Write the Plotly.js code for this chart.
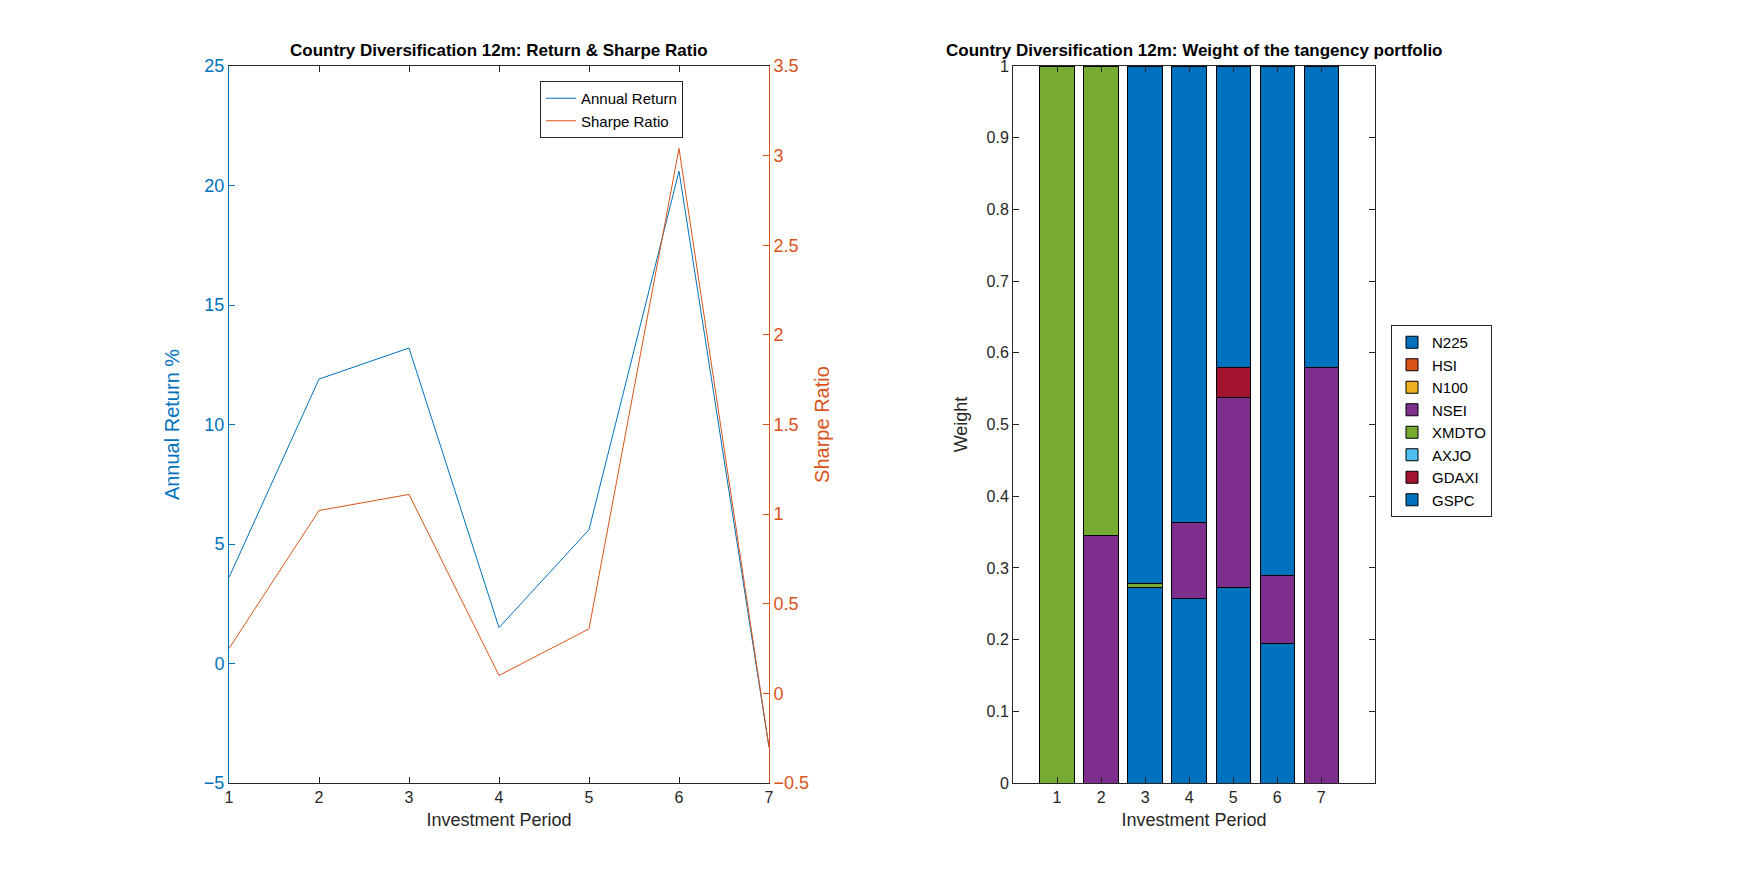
<!DOCTYPE html><html><head><script src="https://cdn.plot.ly/plotly-3.0.1.min.js"></script></head><body style="margin:0"><div id="c" style="width:1750px;height:875px"></div><script>
const periods=[1,2,3,4,5,6,7];
const annualReturn=[3.6,11.9,13.2,1.5,5.6,20.6,-3.5];
const sharpeRatio=[0.25,1.02,1.11,0.1,0.36,3.04,-0.3];
const assets=['N225','HSI','N100','NSEI','XMDTO','AXJO','GDAXI','GSPC'];
const colors=['#0072BD','#D95319','#EDB120','#7E2F8E','#77AC30','#4DBEEE','#A2142F','#0072BD'];
const weights={
N225:[0,0,0.273,0.258,0.273,0.194,0],
HSI:[0,0,0,0,0,0,0],
N100:[0,0,0,0,0,0,0],
NSEI:[0,0.345,0,0.105,0.264,0.095,0.58],
XMDTO:[1,0.655,0.005,0,0,0,0],
AXJO:[0,0,0,0,0,0,0],
GDAXI:[0,0,0,0,0.042,0,0],
GSPC:[0,0,0.722,0.637,0.421,0.711,0.42]};
const F='Liberation Sans, Arial, sans-serif';
const traces=[
{x:periods,y:annualReturn,name:'Annual Return',type:'scatter',mode:'lines',line:{color:'#0072BD',width:1},xaxis:'x',yaxis:'y'},
{x:periods,y:sharpeRatio,name:'Sharpe Ratio',type:'scatter',mode:'lines',line:{color:'#D95319',width:1},xaxis:'x',yaxis:'y2'}];
assets.forEach((a,i)=>traces.push({x:periods,y:weights[a],name:a,type:'bar',width:0.78,marker:{color:colors[i],line:{color:'#000',width:1}},xaxis:'x2',yaxis:'y3',legend:'legend2'}));
const ax={showline:true,linecolor:'#262626',ticks:'inside',ticklen:6,tickcolor:'#262626',zeroline:false,showgrid:false,tickfont:{size:16,color:'#262626',family:F}};
const layout={width:1750,height:875,paper_bgcolor:'#fff',plot_bgcolor:'#fff',showlegend:true,barmode:'stack',font:{family:F},margin:{l:0,r:0,t:0,b:0},
annotations:[
{text:'<b>Country Diversification 12m: Return & Sharpe Ratio</b>',x:499,y:50},
{text:'<b>Country Diversification 12m: Weight of the tangency portfolio</b>',x:1194,y:50}].map(a=>Object.assign(a,{xref:'paper',yref:'paper',xanchor:'center',yanchor:'middle',showarrow:false,font:{size:17,color:'#000'},x:a.x/1750,y:1-a.y/875})),
xaxis:Object.assign({},ax,{domain:[229/1750,769/1750],range:[1,7],dtick:1,mirror:'ticks',title:{text:'Investment Period',font:{size:18,color:'#262626'},standoff:8}}),
yaxis:Object.assign({},ax,{domain:[1-783/875,1-66/875],range:[-5,25],dtick:5,linecolor:'#0072BD',tickcolor:'#0072BD',tickfont:{size:18,color:'#0072BD',family:F},title:{text:'Annual Return %',font:{size:20,color:'#0072BD'}}}),
yaxis2:Object.assign({},ax,{overlaying:'y',side:'right',anchor:'x',range:[-0.5,3.5],dtick:0.5,linecolor:'#D95319',tickcolor:'#D95319',tickfont:{size:18,color:'#D95319',family:F},title:{text:'Sharpe Ratio',font:{size:20,color:'#D95319'}}}),
xaxis2:Object.assign({},ax,{domain:[1013/1750,1375/1750],range:[0,8.22],tickvals:periods,mirror:'ticks',anchor:'y3',title:{text:'Investment Period',font:{size:18,color:'#262626'},standoff:8}}),
yaxis3:Object.assign({},ax,{domain:[1-783/875,1-66/875],range:[0,1],dtick:0.1,mirror:'ticks',anchor:'x2',title:{text:'Weight',font:{size:18,color:'#262626'}}}),
legend:{x:540/1750,y:1-81/875,xanchor:'left',yanchor:'top',bordercolor:'#262626',borderwidth:1,bgcolor:'#fff',font:{size:15,color:'#000'}},
legend2:{x:1391/1750,y:1-325/875,xanchor:'left',yanchor:'top',bordercolor:'#262626',borderwidth:1,bgcolor:'#fff',font:{size:15,color:'#000'},traceorder:'normal',tracegroupgap:0}
};
Plotly.newPlot('c',traces,layout,{displayModeBar:false});
</script></body></html>
